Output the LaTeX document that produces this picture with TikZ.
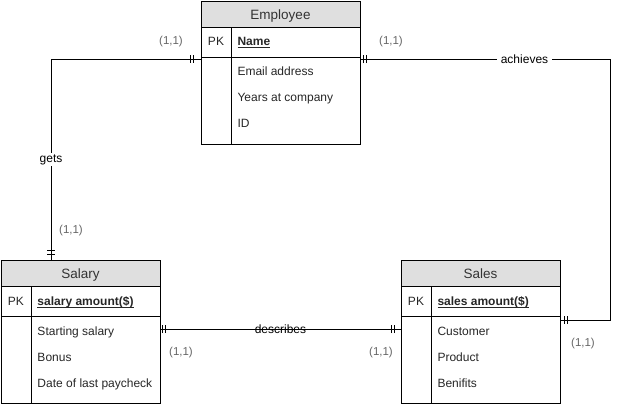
\documentclass[tikz,border=0pt]{standalone}
\usepackage{fontspec}
\setmainfont{Liberation Sans}
\usetikzlibrary{positioning,calc,decorations.markings}

% underlined primary key
\newcommand{\keyline}[1]{\setbox0\hbox{#1}\rlap{\rule[-2.4pt]{\wd0}{0.9pt}}\box0}

\begin{document}
\begin{tikzpicture}[
    x=1pt, y=-1pt,
    line width=1pt,
    % Node styles
    head/.style={draw, rectangle, minimum width=159pt, minimum height=26pt, inner sep=0pt, outer sep=0pt, fill=gray!25},
    pkrow/.style={draw, rectangle, minimum width=159pt, minimum height=30pt, inner sep=0pt, outer sep=0pt},
    body/.style={draw, rectangle, minimum width=159pt, minimum height=87pt, inner sep=0pt, outer sep=0pt},
    title/.style={anchor=base, inner sep=0pt, text=black!80, font=\fontsize{13.5}{16}\selectfont},
    pk/.style={anchor=base, inner sep=0pt, text=black!85, font=\fontsize{12}{14}\selectfont},
    key/.style={anchor=base west, inner sep=0pt, text=black!85, font=\fontsize{12}{14}\selectfont\bfseries},
    attr/.style={anchor=base west, inner sep=0pt, text=black!85, font=\fontsize{12}{14}\selectfont},
    card/.style={inner sep=0pt, text=black!60, font=\fontsize{11.5}{14}\selectfont},
    rel/.style={inner sep=1.5pt, text=black, font=\fontsize{12}{14}\selectfont},
    edge/.style={draw=black, line width=1pt},
    mand/.style n args={4}{postaction={decorate}, decoration={markings,
        mark=at position #1 with {\draw[line width=1pt] (0,-4pt) -- (0,4pt);},
        mark=at position #2 with {\draw[line width=1pt] (0,-4pt) -- (0,4pt);},
        mark=at position -#3 with {\draw[line width=1pt] (0,-4pt) -- (0,4pt);},
        mark=at position -#4 with {\draw[line width=1pt] (0,-4pt) -- (0,4pt);}}},
]
\useasboundingbox (0,0) rectangle (619,405);

% ============================================================
% Employee
% ============================================================
\node[head] (emphead) at (280.5,14) {};
\node[pkrow, below=0pt of emphead] (emppk) {};
\node[body, below=0pt of emppk] (empbody) {};
\draw ([xshift=30pt]emppk.north west) -- ([xshift=30pt]empbody.south west);

\node[title] (emptitle) at (280.5,19) {Employee};
\node[pk] (emppkt) at (216,45) {PK};
\node[key] (empkey) at (237,45) {\keyline{Name}};
\node[attr] (empa1) at (237,75) {Email address};
\node[attr] (empa2) at (237,101) {Years at company};
\node[attr] (empa3) at (237,127) {ID};

% ============================================================
% Salary
% ============================================================
\node[head] (salhead) at (80.5,273) {};
\node[pkrow, below=0pt of salhead] (salpk) {};
\node[body, below=0pt of salpk] (salbody) {};
\draw ([xshift=30pt]salpk.north west) -- ([xshift=30pt]salbody.south west);

\node[title] (saltitle) at (80.5,278.5) {Salary};
\node[pk] (salpkt) at (16,305) {PK};
\node[key] (salkey) at (37,305) {\keyline{salary amount(\$)}};
\node[attr] (sala1) at (37,335) {Starting salary};
\node[attr] (sala2) at (37,361) {Bonus};
\node[attr] (sala3) at (37,387) {Date of last paycheck};

% ============================================================
% Sales
% ============================================================
\node[head] (saleshead) at (480.5,273) {};
\node[pkrow, below=0pt of saleshead] (salespk) {};
\node[body, below=0pt of salespk] (salesbody) {};
\draw ([xshift=30pt]salespk.north west) -- ([xshift=30pt]salesbody.south west);

\node[title] (salestitle) at (480.5,278.5) {Sales};
\node[pk] (salespkt) at (416,305) {PK};
\node[key] (saleskey) at (437,305) {\keyline{sales amount(\$)}};
\node[attr] (salesa1) at (437,335) {Customer};
\node[attr] (salesa2) at (437,361) {Product};
\node[attr] (salesa3) at (437,387) {Benifits};

% ============================================================
% Relationships
% ============================================================
\draw[edge, mand={8pt}{11pt}{10pt}{6pt}] ([yshift=-2pt]empbody.north west)
    -| node[rel, fill=white, pos=0.75] (gets) {gets} ([xshift=-29.5pt]salhead.north);
\draw[edge, mand={3pt}{6pt}{7pt}{4pt}] ([yshift=-2pt]empbody.north east)
    -- node[rel, fill=white, pos=0.65, inner xsep=4pt, xshift=2pt] (achieves) {achieves} ++(250,0)
    |- ([yshift=-4pt]salesbody.north east);
\draw[edge, mand={2pt}{5pt}{10pt}{7pt}] ([yshift=-13pt]salbody.north east)
    -- node[rel] (describes) {describes} ([yshift=-13pt]salesbody.north west);

% Cardinalities
\node[card] (c1) at (171,42) {(1,1)};
\node[card] (c2) at (71,231) {(1,1)};
\node[card] (c3) at (391,42) {(1,1)};
\node[card] (c4) at (583,344) {(1,1)};
\node[card] (c5) at (181,353) {(1,1)};
\node[card] (c6) at (381,353) {(1,1)};

\end{tikzpicture}
\end{document}
